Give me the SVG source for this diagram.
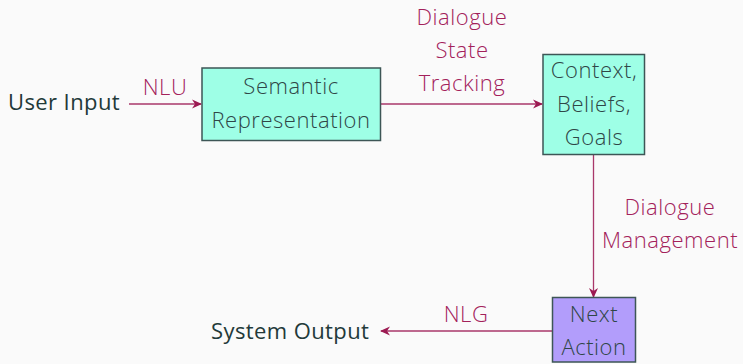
<svg xmlns="http://www.w3.org/2000/svg" width="743" height="364" viewBox="0 0 743 364">
  <style>
    .box { stroke: #3d5656; stroke-width: 1.5; }
    .state { fill: #9effe6; }
    .action { fill: #b29dfb; }
    text { font-family: "Open Sans", "Noto Sans", sans-serif; font-size: 22px; font-weight: 350; letter-spacing: 0.55px; }
    .node-text { fill: #2f4646; text-anchor: middle; }
    .io-text { fill: #223939; font-weight: 380; letter-spacing: 0.4px; }
    .label { fill: #a3215a; text-anchor: middle; }
    .edge { stroke: #a9376a; stroke-width: 1.3; fill: none; marker-end: url(#tip); }
  </style>
  <defs>
    <marker id="tip" viewBox="0 0 10 10" refX="9" refY="5" markerWidth="10" markerHeight="10" markerUnits="userSpaceOnUse" orient="auto">
      <path d="M0,0.5 L10,5 L0,9.5 L3,5 Z" fill="#9c1a52"/>
    </marker>
  </defs>

  <rect width="743" height="364" fill="#fafafa"/>

  <!-- connectors -->
  <g id="connectors">
    <line class="edge" x1="129" y1="104" x2="201" y2="104"/>
    <line class="edge" x1="380.5" y1="104" x2="542" y2="104"/>
    <line class="edge" x1="593.5" y1="154.5" x2="593.5" y2="297"/>
    <line class="edge" x1="552" y1="331" x2="381" y2="331"/>
    <text class="label" x="165" y="95">NLU</text>
    <text class="label" x="462" y="25">Dialogue</text>
    <text class="label" x="462" y="57.5">State</text>
    <text class="label" x="462" y="90.5">Tracking</text>
    <text class="label" x="670" y="215">Dialogue</text>
    <text class="label" x="670" y="248">Management</text>
    <text class="label" x="466" y="321.5">NLG</text>
  </g>

  <g id="user-input">
    <text class="io-text" x="8" y="110">User Input</text>
  </g>

  <g id="semantic-representation">
    <rect class="box state" x="202" y="68" width="178.5" height="72.5"/>
    <text class="node-text" x="291" y="93.5">Semantic</text>
    <text class="node-text" x="291" y="127.5">Representation</text>
  </g>

  <g id="context-beliefs-goals">
    <rect class="box state" x="543" y="54.5" width="101.5" height="100"/>
    <text class="node-text" x="594" y="77.5">Context,</text>
    <text class="node-text" x="594" y="111.5">Beliefs,</text>
    <text class="node-text" x="594" y="145">Goals</text>
  </g>

  <g id="next-action">
    <rect class="box action" x="552.5" y="297.5" width="83" height="64.5"/>
    <text class="node-text" x="594" y="321.5">Next</text>
    <text class="node-text" x="594" y="355">Action</text>
  </g>

  <g id="system-output">
    <text class="io-text" x="211" y="339">System Output</text>
  </g>
</svg>
